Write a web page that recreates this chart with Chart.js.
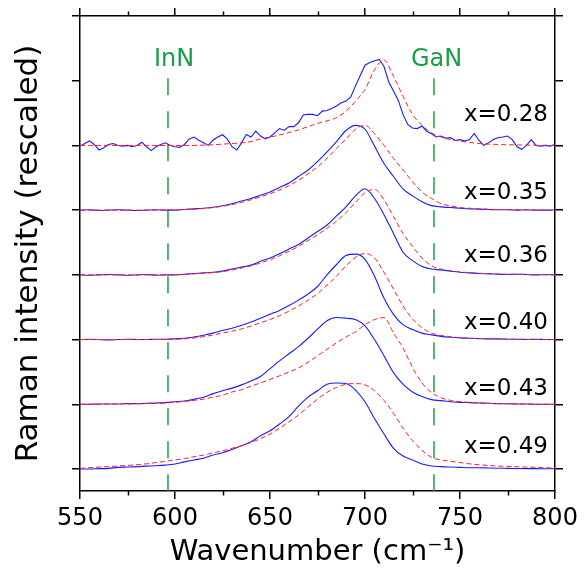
<!DOCTYPE html>
<html>
<head>
<meta charset="utf-8">
<script src="https://cdn.jsdelivr.net/npm/chart.js@4/dist/chart.umd.min.js"></script>
<style>
  html, body { margin: 0; padding: 0; background: #fff; }
  canvas { display: block; }
</style>
</head>
<body>
<canvas id="ramanChart" width="586" height="575"></canvas>
<script>
// wavenumber grid (cm-1) for the smooth traces
const wavenumbers = [550, 555, 560, 565, 570, 575, 580, 585, 590, 595, 600, 605, 610, 615, 620, 625, 630, 635, 640, 645,
  650, 655, 660, 665, 670, 675, 680, 685, 690, 695, 700, 705, 710, 715, 720, 725, 730, 735, 740, 745,
  750, 755, 760, 765, 770, 775, 780, 785, 790, 795, 800];

// finer grid for the noisy x=0.28 measurement
const wavenumbersFine = [550, 552.5, 555, 557.5, 560, 562.5, 565, 567.5, 570, 572.5, 575, 577.5, 580, 582.5, 585, 587.5,
  590, 592.5, 595, 597.5, 600, 602.5, 605, 607.5, 610, 612.5, 615, 617.5, 620, 622.5, 625, 627.5,
  630, 632.5, 635, 637.5, 640, 642.5, 645, 647.5, 650, 652.5, 655, 657.5, 660, 662.5, 665, 667.5,
  670, 672.5, 675, 677.5, 680, 682.5, 685, 687.5, 690, 692.5, 695, 697.5, 700, 702.5, 705, 707.5,
  710, 712.5, 715, 717.5, 720, 722.5, 725, 727.5, 730, 732.5, 735, 737.5, 740, 742.5, 745, 747.5,
  750, 752.5, 755, 757.5, 760, 762.5, 765, 767.5, 770, 772.5, 775, 777.5, 780, 782.5, 785, 787.5,
  790, 792.5, 795, 797.5, 800];

const sampleLabels = ['x=0.28', 'x=0.35', 'x=0.36', 'x=0.40', 'x=0.43', 'x=0.49'];
const sampleOffsets = [5, 4, 3, 2, 1, 0];
const sampleLabelY = [5.37, 4.17, 3.2, 2.17, 1.14, 0.24];
const sampleLabelX = 796.3;

// measured spectra (blue), rescaled intensity above each baseline
const measured028 = [-0.01, 0.03, 0.07, 0.015, -0.07, -0.035, 0.015, 0.03, 0, -0.01, 0, -0.02, 0, 0.05, -0.02, -0.08,
  -0.02, 0.015, 0.04, 0, -0.02, -0.03, 0.015, 0.1, 0.13, 0.08, 0.04, 0, 0.08, 0.13, 0.165, 0.1,
  -0.02, -0.07, 0.04, 0.17, 0.13, 0.22, 0.145, 0.1, 0.13, 0.195, 0.26, 0.235, 0.29, 0.29, 0.35, 0.47,
  0.48, 0.48, 0.46, 0.53, 0.54, 0.57, 0.61, 0.66, 0.685, 0.75, 0.92, 1.08, 1.24, 1.28, 1.31, 1.33,
  1.22, 0.98, 0.84, 0.7, 0.48, 0.325, 0.27, 0.26, 0.3, 0.22, 0.18, 0.13, 0.145, 0.11, 0.12, 0.077,
  0.09, 0.067, 0.09, 0.185, 0.077, 0, 0.04, 0.09, 0.12, 0.13, 0.145, 0.09, -0.02, -0.06, 0, 0.09,
  0, -0.01, 0, -0.01, 0.015];
const measured035 = [0, 0.005, -0.005, 0, 0.005, 0, -0.005, 0, 0.005, 0, 0, 0.01, 0.02, 0.03, 0.045, 0.067, 0.1, 0.14, 0.18, 0.23,
  0.28, 0.35, 0.42, 0.52, 0.62, 0.75, 0.9, 1.06, 1.23, 1.31, 1.25, 0.99, 0.72, 0.52, 0.33, 0.22, 0.13, 0.07, 0.05, 0.04,
  0.03, 0.02, 0.015, 0.01, 0.005, 0.005, 0, 0.005, 0, 0, 0.005];
const measured036 = [0, -0.005, 0, 0.005, 0, -0.005, 0, 0.005, -0.005, 0, 0, 0.01, 0.02, 0.03, 0.04, 0.057, 0.09, 0.12, 0.15, 0.21,
  0.26, 0.325, 0.4, 0.47, 0.57, 0.67, 0.77, 0.91, 1.05, 1.22, 1.33, 1.18, 0.93, 0.64, 0.35, 0.22, 0.13, 0.09, 0.077, 0.057,
  0.04, 0.03, 0.02, 0.015, 0.01, 0.005, 0.01, 0.005, 0, 0.005, 0];
const measured040 = [0, 0.005, 0, -0.005, 0, 0.005, 0, 0, 0.005, 0.005, 0.01, 0.02, 0.04, 0.067, 0.1, 0.14, 0.175, 0.22, 0.27, 0.33,
  0.39, 0.45, 0.525, 0.61, 0.705, 0.82, 1.0, 1.16, 1.3, 1.32, 1.24, 0.98, 0.64, 0.39, 0.23, 0.155, 0.1, 0.072, 0.05, 0.036,
  0.026, 0.02, 0.015, 0.01, 0.01, 0.005, 0.005, 0, 0.005, 0, 0];
const measured043 = [0, 0, 0.005, 0.005, 0.005, 0.01, 0.01, 0.015, 0.02, 0.025, 0.04, 0.05, 0.077, 0.11, 0.165, 0.21, 0.25, 0.3, 0.36, 0.43,
  0.55, 0.67, 0.78, 0.89, 1.02, 1.16, 1.29, 1.34, 1.33, 1.31, 1.21, 1.0, 0.75, 0.49, 0.31, 0.19, 0.12, 0.072, 0.057, 0.04,
  0.03, 0.025, 0.02, 0.015, 0.01, 0.008, 0.005, 0.005, 0, 0, 0];
const measured049 = [0, 0, 0.005, 0.01, 0.025, 0.03, 0.036, 0.045, 0.05, 0.06, 0.077, 0.11, 0.14, 0.165, 0.215, 0.25, 0.3, 0.36, 0.42, 0.515,
  0.59, 0.695, 0.81, 0.97, 1.11, 1.21, 1.31, 1.33, 1.32, 1.22, 1.04, 0.78, 0.54, 0.32, 0.2, 0.14, 0.077, 0.046, 0.036, 0.03,
  0.025, 0.02, 0.02, 0.015, 0.012, 0.01, 0.008, 0.006, 0.005, 0.003, 0.003];

// calculated spectra (red dashed)
const calc028 = [0, 0, 0, 0, 0, 0, 0, 0, 0, 0, 0, 0, 0, 0.005, 0.01, 0.02, 0.03, 0.04, 0.06, 0.1,
  0.13, 0.16, 0.2, 0.24, 0.29, 0.34, 0.38, 0.43, 0.53, 0.685, 0.865, 1.17, 1.32, 1.07, 0.76, 0.48, 0.31, 0.195, 0.13, 0.09,
  0.067, 0.046, 0.03, 0.02, 0.015, 0.01, 0.008, 0.005, 0.003, 0, 0];
const calc035 = [0, 0, 0, 0, 0, 0, 0, 0, 0, 0.005, 0.005, 0.01, 0.015, 0.025, 0.04, 0.06, 0.085, 0.12, 0.16, 0.205,
  0.255, 0.31, 0.38, 0.46, 0.56, 0.67, 0.8, 0.95, 1.1, 1.25, 1.31, 1.18, 1.0, 0.8, 0.62, 0.44, 0.28, 0.18, 0.1, 0.067,
  0.04, 0.03, 0.02, 0.015, 0.01, 0.008, 0.005, 0.003, 0, 0, 0];
const calc036 = [0, 0, 0, 0, 0, 0, 0, 0, 0, 0, 0, 0.008, 0.015, 0.025, 0.035, 0.05, 0.075, 0.105, 0.14, 0.185,
  0.235, 0.295, 0.365, 0.44, 0.53, 0.62, 0.72, 0.83, 0.96, 1.12, 1.27, 1.32, 1.16, 0.9, 0.64, 0.44, 0.26, 0.14, 0.09, 0.065,
  0.045, 0.035, 0.025, 0.02, 0.015, 0.01, 0.008, 0.005, 0.003, 0, 0];
const calc040 = [0, 0, 0, 0, 0, 0, 0, 0, 0, 0.005, 0.005, 0.01, 0.025, 0.045, 0.07, 0.1, 0.13, 0.165, 0.21, 0.26,
  0.31, 0.37, 0.44, 0.52, 0.61, 0.71, 0.84, 0.98, 1.14, 1.27, 1.33, 1.26, 1.04, 0.78, 0.52, 0.32, 0.18, 0.1, 0.065, 0.045,
  0.03, 0.022, 0.016, 0.012, 0.01, 0.007, 0.005, 0.003, 0, 0, 0];
const calc043 = [0, 0, 0, 0.005, 0.005, 0.005, 0.01, 0.01, 0.012, 0.02, 0.03, 0.045, 0.06, 0.08, 0.11, 0.14, 0.19, 0.225, 0.28, 0.33,
  0.385, 0.44, 0.5, 0.56, 0.65, 0.75, 0.85, 0.95, 1.04, 1.12, 1.23, 1.31, 1.34, 1.1, 0.87, 0.57, 0.33, 0.18, 0.1, 0.06,
  0.04, 0.03, 0.02, 0.015, 0.01, 0.008, 0.005, 0.003, 0, 0, 0];
const calc049 = [0.01, 0.02, 0.03, 0.036, 0.046, 0.055, 0.067, 0.08, 0.1, 0.12, 0.14, 0.16, 0.19, 0.215, 0.25, 0.28, 0.32, 0.36, 0.41, 0.47,
  0.54, 0.63, 0.73, 0.835, 0.96, 1.08, 1.185, 1.26, 1.31, 1.32, 1.3, 1.21, 1.06, 0.86, 0.63, 0.44, 0.29, 0.18, 0.14, 0.12,
  0.1, 0.08, 0.065, 0.055, 0.045, 0.04, 0.035, 0.03, 0.025, 0.02, 0.015];

// InN / GaN reference modes
const phaseNames = ['InN', 'GaN'];
const phasePositions = [596.3, 736.3];
const phaseLabelX = [599.5, 737.7];
const phaseLabelY = 6.23;
const phaseLineTop = 6.04;

const xTicks = [550, 600, 650, 700, 750, 800];
const yMin = -0.34, yMax = 7;

const measuredSets = [measured028, measured035, measured036, measured040, measured043, measured049];
const calcSets = [calc028, calc035, calc036, calc040, calc043, calc049];

function toPoints(xs, ys, offset) {
  return ys.map((v, i) => ({ x: xs[i], y: v + offset }));
}

const fontFamily = '"DejaVu Sans", Verdana, sans-serif';
const datasets = [];

// red dashed drawn on top of blue
calcSets.forEach((vals, k) => {
  datasets.push({
    label: 'calc ' + sampleLabels[k],
    data: toPoints(wavenumbers, vals, sampleOffsets[k]),
    borderColor: '#ff2020',
    borderWidth: 1,
    borderDash: [5, 3],
    pointRadius: 0,
    cubicInterpolationMode: 'monotone'
  });
});
measuredSets.forEach((vals, k) => {
  const xs = k === 0 ? wavenumbersFine : wavenumbers;
  datasets.push({
    label: 'meas ' + sampleLabels[k],
    data: toPoints(xs, vals, sampleOffsets[k]),
    borderColor: '#1a1aff',
    borderWidth: 1.1,
    pointRadius: 0,
    cubicInterpolationMode: k === 0 ? 'default' : 'monotone',
    tension: 0
  });
});
phasePositions.forEach((p, k) => {
  datasets.push({
    label: phaseNames[k],
    data: [{ x: p, y: phaseLineTop }, { x: p, y: yMin }],
    borderColor: '#1a9e48',
    borderWidth: 1.5,
    borderDash: [17, 16],
    pointRadius: 0
  });
});

// minor ticks + text annotations
const extrasPlugin = {
  id: 'extras',
  afterDraw(chart) {
    const ctx = chart.ctx;
    const xs = chart.scales.x;
    const ys = chart.scales.y;
    const area = chart.chartArea;
    ctx.save();
    ctx.strokeStyle = '#000';
    ctx.lineWidth = 1.5;
    for (let v = 575; v < 800; v += 50) {
      const px = Math.round(xs.getPixelForValue(v)) + 0.5;
      ctx.beginPath();
      ctx.moveTo(px, area.bottom);
      ctx.lineTo(px, area.bottom + 4.5);
      ctx.moveTo(px, area.top);
      ctx.lineTo(px, area.top - 4.5);
      ctx.stroke();
    }
    ctx.fillStyle = '#000';
    ctx.font = '23px ' + fontFamily;
    ctx.textAlign = 'right';
    ctx.textBaseline = 'alphabetic';
    sampleLabels.forEach((t, k) => {
      ctx.fillText(t, xs.getPixelForValue(sampleLabelX), ys.getPixelForValue(sampleLabelY[k]));
    });
    ctx.fillStyle = '#1a9e48';
    ctx.font = '24px ' + fontFamily;
    ctx.textAlign = 'center';
    phaseNames.forEach((t, k) => {
      ctx.fillText(t, xs.getPixelForValue(phaseLabelX[k]), ys.getPixelForValue(phaseLabelY));
    });
    ctx.restore();
  }
};

const axisGrid = {
  drawOnChartArea: false,
  drawTicks: true,
  tickLength: 8,
  tickColor: '#000',
  tickWidth: 1.5,
  lineWidth: 1.5,
  color: '#000'
};
const axisBorder = { display: true, color: '#000', width: 1.5 };

new Chart(document.getElementById('ramanChart'), {
  type: 'line',
  data: { datasets: datasets },
  plugins: [extrasPlugin],
  options: {
    responsive: false,
    animation: false,
    layout: { padding: 0 },
    plugins: { legend: { display: false }, tooltip: { enabled: false } },
    scales: {
      x: {
        type: 'linear', position: 'bottom', min: 550, max: 800,
        afterBuildTicks: s => { s.ticks = xTicks.map(v => ({ value: v })); },
        ticks: { color: '#000', font: { family: fontFamily, size: 24 }, maxRotation: 0, padding: 5 },
        grid: axisGrid, border: axisBorder,
        title: { display: true, text: 'Wavenumber (cm⁻¹)', color: '#000',
          font: { family: fontFamily, size: 29 }, padding: { top: 0, bottom: 5 } },
        afterFit: s => { s.height = 84; }
      },
      xTop: {
        type: 'linear', position: 'top', min: 550, max: 800,
        afterBuildTicks: s => { s.ticks = xTicks.map(v => ({ value: v })); },
        ticks: { display: false },
        grid: axisGrid, border: axisBorder,
        afterFit: s => { s.height = 16; }
      },
      y: {
        type: 'linear', position: 'left', min: yMin, max: yMax,
        ticks: { display: false, stepSize: 1, includeBounds: false },
        grid: axisGrid, border: axisBorder,
        title: { display: true, text: 'Raman intensity (rescaled)', color: '#000',
          font: { family: fontFamily, size: 31 }, padding: { top: 10, bottom: 0 } },
        afterFit: s => { s.width = 80; }
      },
      yRight: {
        type: 'linear', position: 'right', min: yMin, max: yMax,
        ticks: { display: false, stepSize: 1, includeBounds: false },
        grid: axisGrid, border: axisBorder,
        afterFit: s => { s.width = 31; }
      }
    }
  }
});
</script>
</body>
</html>
